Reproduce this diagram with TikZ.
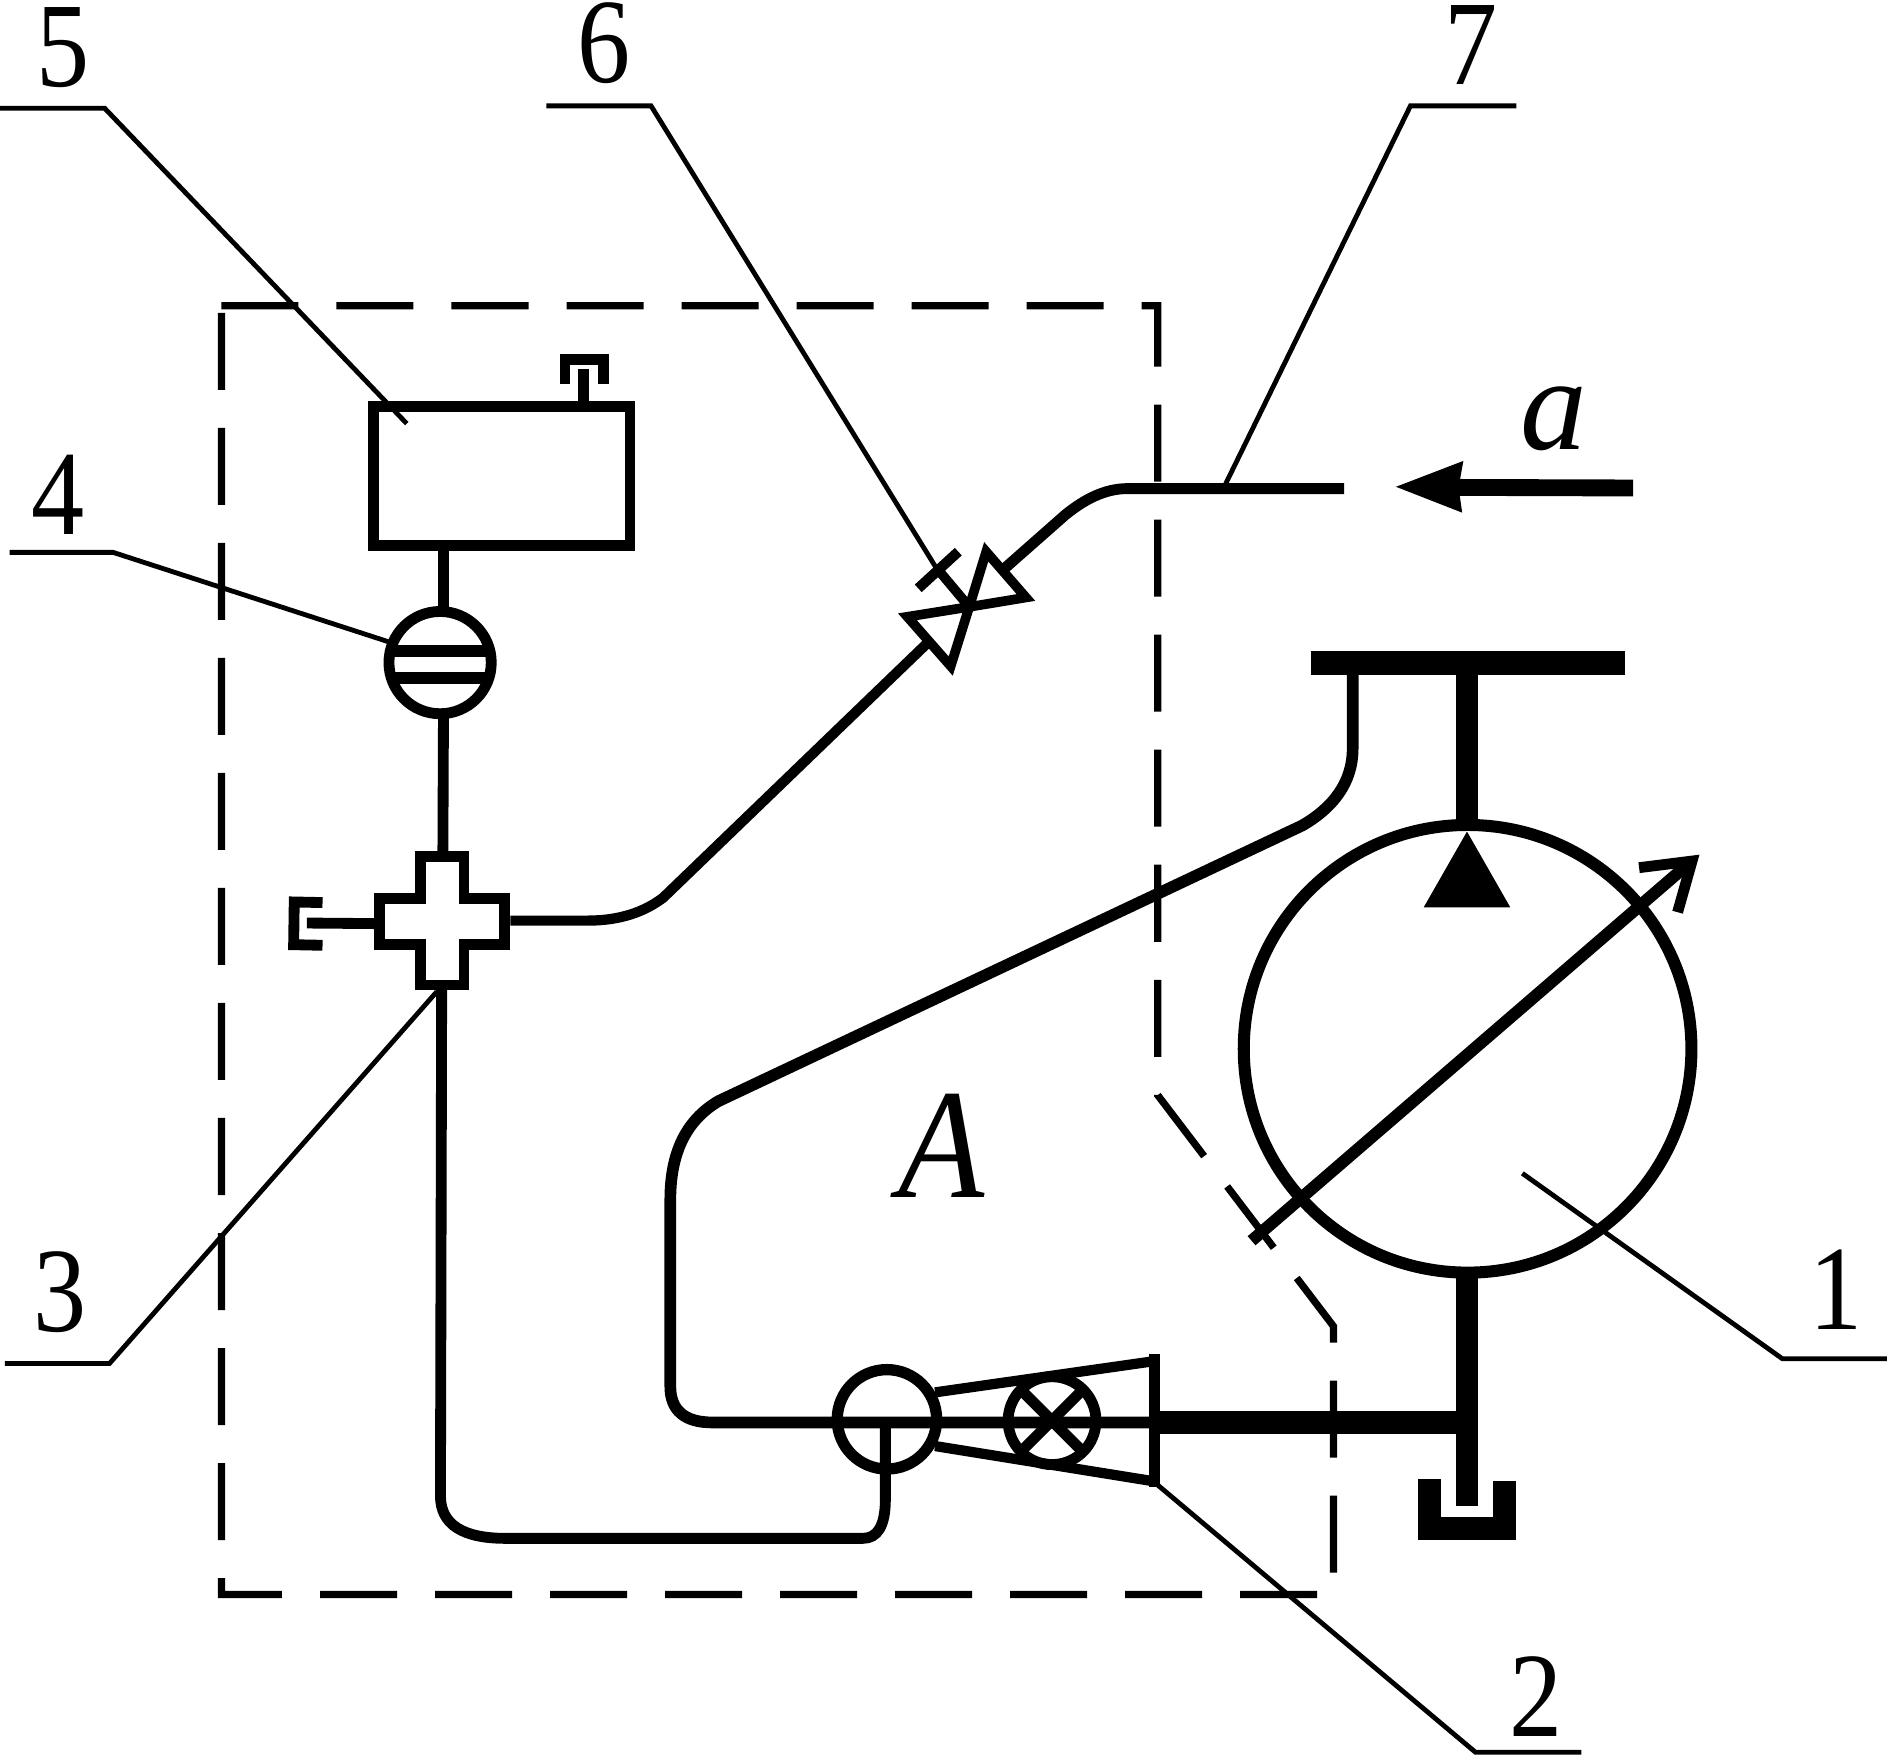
\documentclass[tikz,border=0pt]{standalone}
\usepackage{fontspec}
\setmainfont{Liberation Serif}
\newcommand{\dg}[1]{\scalebox{0.88}[1]{#1}}
\begin{document}
\begin{tikzpicture}[x=0.01cm,y=-0.01cm,line join=miter,
  lw/.style={line width=#1*0.2845pt},
  leader/.style={lw=4},
  pipe/.style={lw=9},
  frame/.style={lw=6,dash pattern=on 18.2pt off 8.98pt},
  digit/.style={inner sep=0pt,font=\fontsize{28.5}{30}\selectfont},
  letter/.style={inner sep=0pt,font=\fontsize{37}{40}\selectfont\itshape},
  smallletter/.style={inner sep=0pt,font=\fontsize{31.5}{34}\selectfont\itshape}]
\useasboundingbox (0,0) rectangle (1568,1459.2);
% dashed frame
\draw[frame] (184,254) -- (962,254) -- (962,910) -- (1108,1102) -- (1108,1325) -- (184,1325) -- (184,258);
% leaders
\coordinate (p5) at (338,352);
\coordinate (p6) at (778,472);
\coordinate (p7) at (1018,403);
\coordinate (p4) at (325,534);
\coordinate (p3) at (363,824);
\coordinate (p2) at (962,1234);
\coordinate (p1) at (1265,975);
\draw[leader] (0,90) -- (87,90) -- (p5);
\draw[leader] (454,88) -- (541,88) -- (p6);
\draw[leader] (1260,88) -- (1172,88) -- (p7);
\draw[leader] (8,459) -- (94,459) -- (p4);
\draw[leader] (4,1133) -- (91,1133) -- (p3);
\draw[leader] (1314,1456) -- (1226,1456) -- (p2);
\draw[leader] (1568,1129) -- (1481,1129) -- (p1);
% tank 5
\draw[pipe] (310.5,337.5) rectangle (523.5,453.5);
\draw[pipe] (485,337) -- (485,307);
\draw[pipe] (469.5,319.5) -- (469.5,298.5) -- (501.5,298.5) -- (501.5,319.5);
\draw[pipe] (368.5,458) -- (368.5,506);
% filter 4
\draw[pipe] (365.7,550.6) circle (42.5);
\draw[lw=10] (325,541) -- (406,541);
\draw[lw=10] (325,563) -- (406,563);
\draw[pipe] (368.5,595) -- (368,712);
% cross 3
\draw[pipe] (349.5,711.5) -- (385.5,711.5) -- (385.5,746.5) -- (419.5,746.5) -- (419.5,784.5) -- (385.5,784.5) -- (385.5,818.5) -- (349.5,818.5) -- (349.5,784.5) -- (315.5,784.5) -- (315.5,746.5) -- (349.5,746.5) -- cycle;
\draw[pipe] (315,767.5) -- (255,767);
\draw[pipe] (268,750) -- (244.5,749.5) -- (244,785) -- (268,785.5);
% delivery line to valve 6
\draw[lw=8.5] (424,765) -- (488,765) .. controls (515,765) and (535,758) .. (551,746) -- (771,534);
\draw[lw=9] (834,473) -- (885,428) .. controls (901,415) and (918,406) .. (937,406) -- (1117,406);
% valve 6
\draw[lw=8] (819.5,458.5) -- (852.5,496.5) -- (805.4,504.3) -- cycle;
\draw[lw=8] (754,512.5) -- (790,553.5) -- (805.4,504.3) -- cycle;
\draw[lw=8] (805.4,504.3) -- (779.7,473.7);
\draw[lw=8.5] (763,488.9) -- (796.3,458.4);
% arrow a
\draw[lw=14] (1357,405.5) -- (1205,405);
\fill (1160,404.5) -- (1216,383) -- (1212,405) -- (1215,426) -- cycle;
% pump
\draw[lw=10] (1219.5,871.5) circle (186);
\draw[lw=20] (1089,551) -- (1350,551);
\draw[lw=18] (1219,555) -- (1219,690);
\fill (1219,691) -- (1255,754) -- (1183,754) -- cycle;
\draw[lw=10] (1040,1031) -- (1404,717);
\draw[lw=9] (1362,721) -- (1406,715.5) -- (1394,758);
\draw[lw=18] (1219,1059) -- (1219,1251);
\draw[lw=19] (962,1182) -- (1219,1182);
\draw[lw=19] (1188,1229) -- (1188,1270) -- (1250,1270) -- (1250,1231);
% suction line
\draw[lw=9.7] (1124,555) -- (1124,622) .. controls (1124,650) and (1108,671) .. (1082,686) -- (597,915) .. controls (570,931) and (557,958) .. (557,997) -- (557,1152) .. controls (557,1172) and (569,1182) .. (592,1182) -- (962,1182);
% return line
\draw[pipe] (735.7,1182) -- (735.7,1246) .. controls (735.7,1268) and (729,1278.3) .. (717,1278.3) -- (420,1278.3) .. controls (385,1278.3) and (366,1267) .. (366,1243) -- (367,822);
% meter
\draw[lw=9.4] (737,1179.4) circle (41.3);
\draw[lw=9] (874.2,1180.5) circle (36.5);
\draw[lw=9] (848,1154.5) -- (900,1206.5);
\draw[lw=9] (900,1154.5) -- (848,1206.5);
\draw[lw=8.5] (777,1157) -- (959.5,1131);
\draw[lw=8.5] (777,1201.6) -- (959.5,1231);
\draw[lw=9.4] (959.5,1125) -- (959.5,1236);
% labels
\node[digit] (n5) at (52,39.5) {\dg{5}};
\node[digit] (n6) at (502,36) {\dg{6}};
\node[digit] (n7) at (1222,37) {\dg{7}};
\node[digit] (n4) at (48,411) {\dg{4}};
\node[digit] (n3) at (49.5,1074) {\dg{3}};
\node[digit] (n1) at (1525.5,1072) {\dg{1}};
\node[digit] (n2) at (1276,1410) {\dg{2}};
\node[smallletter] (na) at (1291,348) {a};
\node[letter] (nA) at (782,952) {\scalebox{0.9}[1]{A}};
\end{tikzpicture}
\end{document}
